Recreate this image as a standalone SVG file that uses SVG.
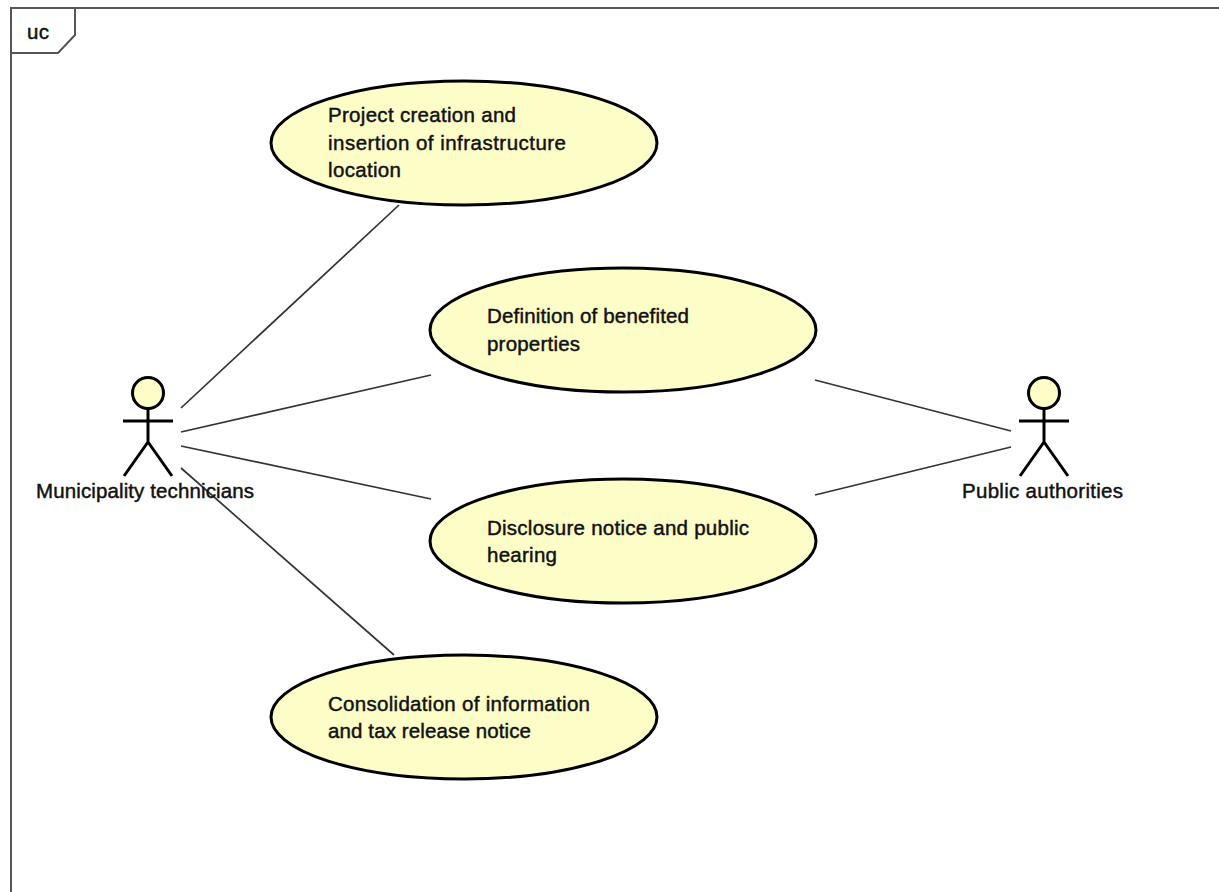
<svg xmlns="http://www.w3.org/2000/svg" width="1219" height="892" viewBox="0 0 1219 892">
<style>
.t{font-family:"Liberation Sans",Arial,sans-serif;font-size:20.5px;fill:#111;stroke:#111;stroke-width:.45}
.u{fill:#fdfdc8;stroke:#000;stroke-width:3}
.a{fill:none;stroke:#000;stroke-width:3}
.h{fill:#fdfdc8;stroke:#000;stroke-width:3}
.c{stroke:#333;stroke-width:1.7;fill:none}
.f{fill:none;stroke:#555;stroke-width:2}
</style>
<rect width="1219" height="892" fill="#fff"/>
<g id="frame">
<path class="f" d="M1219 8H11V892"/>
<path class="f" d="M11 53H58L75 35V8"/>
<text class="t" x="27" y="39" textLength="22">uc</text>
</g>
<g id="connectors">
<line class="c" x1="181" y1="408" x2="399" y2="205"/>
<line class="c" x1="181" y1="432" x2="431" y2="375"/>
<line class="c" x1="181" y1="446" x2="431" y2="499"/>
<line class="c" x1="181" y1="468" x2="394" y2="655"/>
<line class="c" x1="815" y1="380" x2="1011" y2="431"/>
<line class="c" x1="815" y1="495" x2="1011" y2="447"/>
</g>
<g id="uc1">
<ellipse class="u" cx="464" cy="143" rx="193" ry="62"/>
<text class="t" x="328" y="122" textLength="188">Project creation and</text>
<text class="t" x="328" y="150" textLength="238">insertion of infrastructure</text>
<text class="t" x="328" y="177" textLength="73">location</text>
</g>
<g id="uc2">
<ellipse class="u" cx="623" cy="330" rx="193" ry="62"/>
<text class="t" x="487" y="323" textLength="202">Definition of benefited</text>
<text class="t" x="487" y="351" textLength="93">properties</text>
</g>
<g id="uc3">
<ellipse class="u" cx="623" cy="541" rx="193" ry="62"/>
<text class="t" x="487" y="535" textLength="262">Disclosure notice and public</text>
<text class="t" x="487" y="562" textLength="70">hearing</text>
</g>
<g id="uc4">
<ellipse class="u" cx="464" cy="717" rx="193" ry="62"/>
<text class="t" x="328" y="711" textLength="262">Consolidation of information</text>
<text class="t" x="328" y="738" textLength="203">and tax release notice</text>
</g>
<g id="actor1">
<circle class="h" cx="148" cy="393" r="15.5"/>
<path class="a" d="M148 409V442M123 421H173M124 476L148 442L172 476"/>
<text class="t" x="36" y="498" textLength="218">Municipality technicians</text>
</g>
<g id="actor2">
<circle class="h" cx="1044" cy="393" r="15.5"/>
<path class="a" d="M1044 409V442M1019 421H1069M1020 476L1044 442L1068 476"/>
<text class="t" x="962" y="498" textLength="161">Public authorities</text>
</g>
</svg>
